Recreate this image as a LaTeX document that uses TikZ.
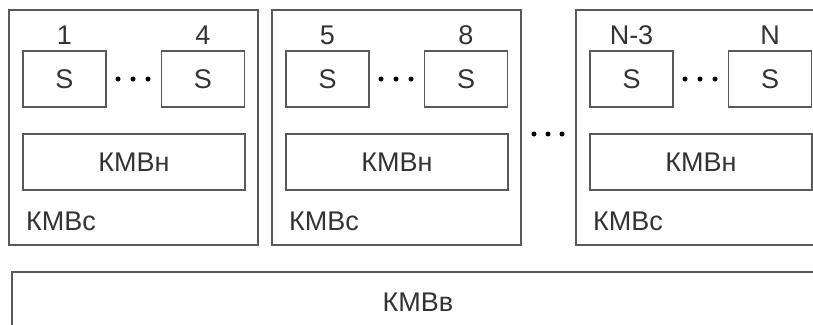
\documentclass[tikz,border=0pt]{standalone}
\usepackage{fontspec}
\setmainfont{Liberation Sans}
\begin{document}
\begin{tikzpicture}[x=1pt,y=-1pt,
  font=\fontsize{27}{30}\selectfont,
  every node/.style={text=black!80},
  frame/.style={draw=black!65,line width=1.4pt,rectangle,inner sep=0pt,outer sep=0pt},
  cell/.style={frame,minimum width=83pt,minimum height=56pt},
  bus/.style={frame,minimum width=222pt,minimum height=56pt},
  group/.style={frame,minimum width=249pt,minimum height=235pt},
  dot/.style={circle,fill=black,inner sep=0pt,minimum size=5pt}]
\useasboundingbox (0,0) rectangle (813,324);
\clip (0,0) rectangle (813,324);
\fill[white] (0,0) rectangle (813,324);

% three switch groups, each with two S cells and a local switch
\foreach \k/\dx/\la/\lb in {1/0/1/4, 2/263/5/8, 3/567/N-3/N}{
  \node[group] (g\k) at (133.5+\dx,127.5) {};
  \node[cell] (s\k a) at (64.5+\dx,79) {S};
  \node[cell] (s\k b) at (203+\dx,79) {S};
  \node (n\k a) at (64.5+\dx,35) {\la};
  \node (n\k b) at (203+\dx,35) {\lb};
  \node[bus] (h\k) at (134+\dx,162) {КМВн};
  \node[anchor=base west,inner sep=0pt] (c\k) at (26+\dx,230) {КМВс};
  \node[dot] (d\k a) at (118+\dx,79) {};
  \node[dot] (d\k b) at (133+\dx,79) {};
  \node[dot] (d\k c) at (148+\dx,79) {};
}

% gap between the second and third groups
\node[dot] (m1) at (534,134) {};
\node[dot] (m2) at (548,134) {};
\node[dot] (m3) at (562,134) {};

% top-level switch
\node[frame,minimum width=813pt,minimum height=60pt] (top) at (418.5,302) {};
\node (toplbl) at (418,302) {КМВв};
\end{tikzpicture}
\end{document}
